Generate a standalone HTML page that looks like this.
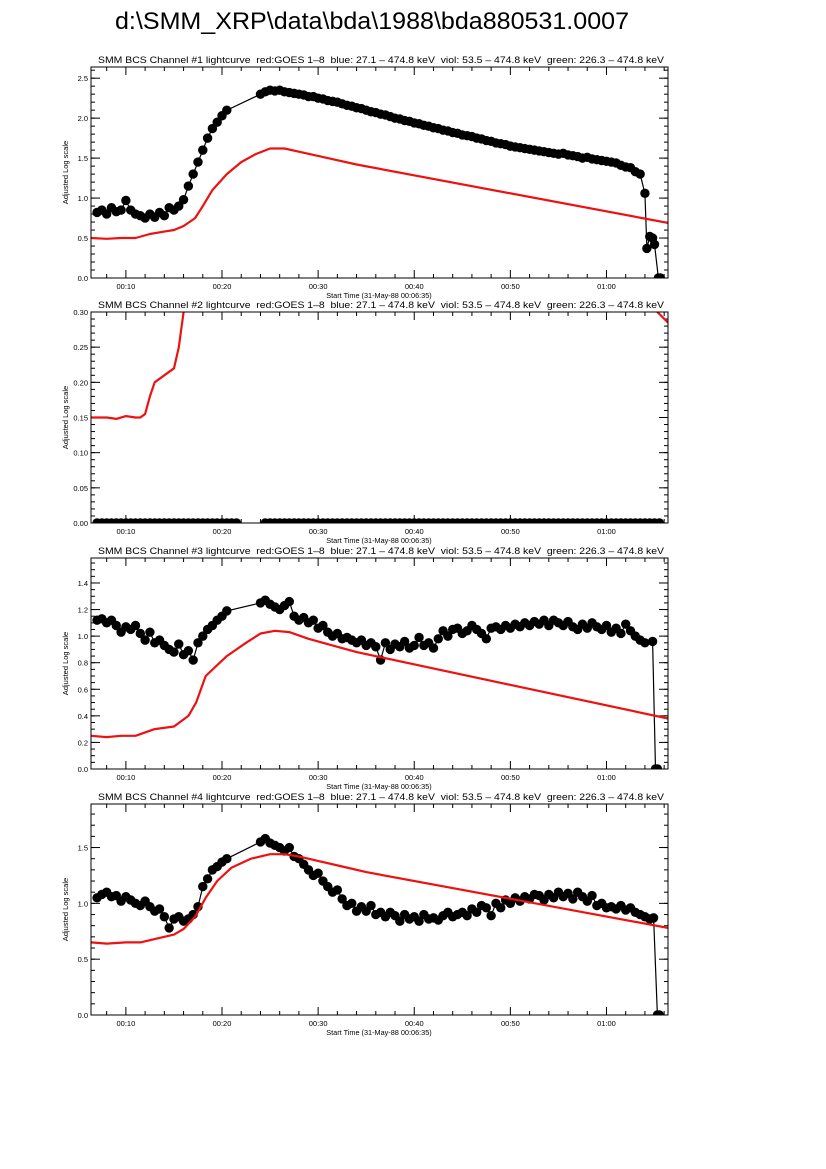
<!DOCTYPE html>
<html><head><meta charset="utf-8"><style>
html,body{margin:0;padding:0;background:#fff;}
svg{display:block;font-family:"Liberation Sans",sans-serif;}
</style></head><body>
<svg id="chart" width="826" height="1169" viewBox="0 0 826 1169" xmlns="http://www.w3.org/2000/svg">
<rect width="826" height="1169" fill="#fff"/>
<text x="372" y="29" font-size="24" text-anchor="middle" textLength="514" lengthAdjust="spacingAndGlyphs" fill="#000">d:\SMM_XRP\data\bda\1988\bda880531.0007</text>
<g id="panels"></g>
</svg>
<script>
// ---- shared axis ----
const xTickMinutes = [10, 20, 30, 40, 50, 60];
const xTickLabels = ["00:10", "00:20", "00:30", "00:40", "00:50", "01:00"];
const xMin = 6.37, xMax = 66.4;

// ---- panel 1 ----
const p1BlackT1 = [7,7.5,8,8.5,9,9.5,10,10.5,11,11.5,12,12.5,13,13.5,14,14.5,15,15.5,16,16.5,17,17.5,18,18.5,19,19.5,20,20.5];
const p1BlackV1 = [0.82,0.85,0.8,0.88,0.83,0.85,0.97,0.85,0.8,0.78,0.75,0.8,0.76,0.82,0.78,0.88,0.85,0.9,0.98,1.15,1.3,1.45,1.6,1.75,1.87,1.95,2.03,2.1];
const p1BlackT2 = [24,24.5,25,25.5,26,26.5,27,27.5,28,28.5,29,29.5,30,30.5,31,31.5,32,32.5,33,33.5,34,34.5,35,35.5,36,36.5,37,37.5,38,38.5,39,39.5,40,40.5,41,41.5,42,42.5,43,43.5,44,44.5,45,45.5,46,46.5,47,47.5,48,48.5,49,49.5,50,50.5,51,51.5,52,52.5,53,53.5,54,54.5,55,55.5,56,56.5,57,57.5,58,58.5,59,59.5,60,60.5,61,61.5,62,62.5,63,63.5,64,64.2,64.5,64.8,65,65.4,65.6];
const p1BlackV2 = [2.30,2.33,2.35,2.34,2.35,2.33,2.32,2.31,2.30,2.29,2.27,2.27,2.25,2.24,2.22,2.21,2.20,2.18,2.16,2.15,2.13,2.12,2.10,2.08,2.07,2.05,2.04,2.02,2.00,1.99,1.97,1.96,1.94,1.93,1.91,1.90,1.88,1.87,1.85,1.84,1.82,1.81,1.79,1.78,1.77,1.75,1.74,1.72,1.71,1.69,1.68,1.67,1.65,1.64,1.63,1.62,1.61,1.60,1.59,1.58,1.57,1.56,1.55,1.56,1.54,1.53,1.52,1.50,1.51,1.49,1.48,1.47,1.46,1.45,1.44,1.41,1.39,1.38,1.33,1.30,1.06,0.37,0.52,0.50,0.42,0.0,0.0];
const p1RedT = [6.4,8,9.5,11,12.5,14,15,16,17.2,18,19,20.5,22,23.5,25,26.5,28,31,34,66.4];
const p1RedV = [0.5,0.49,0.5,0.5,0.55,0.58,0.6,0.65,0.75,0.9,1.1,1.3,1.45,1.55,1.62,1.62,1.58,1.5,1.42,0.69];

// ---- panel 2 ----
const p2BlackT1 = [7,7.5,8,8.5,9,9.5,10,10.5,11,11.5,12,12.5,13,13.5,14,14.5,15,15.5,16,16.5,17,17.5,18,18.5,19,19.5,20,20.5,21,21.5];
const p2BlackV1 = [0,0,0,0,0,0,0,0,0,0,0,0,0,0,0,0,0,0,0,0,0,0,0,0,0,0,0,0,0,0];
const p2BlackT2 = [24.5,25,25.5,26,26.5,27,27.5,28,28.5,29,29.5,30,30.5,31,31.5,32,32.5,33,33.5,34,34.5,35,35.5,36,36.5,37,37.5,38,38.5,39,39.5,40,40.5,41,41.5,42,42.5,43,43.5,44,44.5,45,45.5,46,46.5,47,47.5,48,48.5,49,49.5,50,50.5,51,51.5,52,52.5,53,53.5,54,54.5,55,55.5,56,56.5,57,57.5,58,58.5,59,59.5,60,60.5,61,61.5,62,62.5,63,63.5,64,64.5,65,65.5];
const p2BlackV2 = [0,0,0,0,0,0,0,0,0,0,0,0,0,0,0,0,0,0,0,0,0,0,0,0,0,0,0,0,0,0,0,0,0,0,0,0,0,0,0,0,0,0,0,0,0,0,0,0,0,0,0,0,0,0,0,0,0,0,0,0,0,0,0,0,0,0,0,0,0,0,0,0,0,0,0,0,0,0,0,0,0,0,0];
const p2RedT1 = [6.4,8,9,10,11,11.5,12,12.5,13,14,15,15.5,16,16.3];
const p2RedV1 = [0.15,0.15,0.148,0.152,0.15,0.15,0.155,0.18,0.2,0.21,0.22,0.25,0.30,0.33];
const p2RedT2 = [64.6,65.3,66.4];
const p2RedV2 = [0.33,0.30,0.285];

// ---- panel 3 ----
const p3BlackT1 = [7,7.5,8,8.5,9,9.5,10,10.5,11,11.5,12,12.5,13,13.5,14,14.5,15,15.5,16,16.5,17,17.5,18,18.5,19,19.5,20,20.5];
const p3BlackV1 = [1.12,1.13,1.10,1.12,1.08,1.03,1.07,1.05,1.08,1.02,0.97,1.03,0.95,0.97,0.93,0.90,0.88,0.94,0.86,0.89,0.82,0.95,1.0,1.05,1.08,1.12,1.15,1.19];
const p3BlackT2 = [24,24.5,25,25.5,26,26.5,27,27.5,28,28.5,29,29.5,30,30.5,31,31.5,32,32.5,33,33.5,34,34.5,35,35.5,36,36.5,37,37.5,38,38.5,39,39.5,40,40.5,41,41.5,42,42.5,43,43.5,44,44.5,45,45.5,46,46.5,47,47.5,48,48.5,49,49.5,50,50.5,51,51.5,52,52.5,53,53.5,54,54.5,55,55.5,56,56.5,57,57.5,58,58.5,59,59.5,60,60.5,61,61.5,62,62.5,63,63.5,64,64.8,65.1,65.3];
const p3BlackV2 = [1.25,1.27,1.24,1.22,1.20,1.23,1.26,1.15,1.12,1.14,1.10,1.12,1.06,1.08,1.03,1.00,1.02,0.98,0.99,0.97,0.95,0.97,0.93,0.95,0.92,0.82,0.95,0.90,0.94,0.92,0.96,0.91,0.93,0.99,0.93,0.95,0.91,0.98,1.04,1.00,1.05,1.06,1.02,1.04,1.08,1.05,1.02,0.98,1.06,1.07,1.05,1.08,1.06,1.09,1.07,1.10,1.08,1.11,1.09,1.12,1.08,1.12,1.10,1.08,1.11,1.07,1.05,1.09,1.06,1.10,1.07,1.05,1.08,1.03,1.06,1.02,1.09,1.04,1.00,0.97,0.95,0.96,0.0,0.0];
const p3RedT = [6.4,8,9.5,11,13,15,16.5,17.3,18.3,20.5,22.5,24,25.5,27,29,32,34,66.4];
const p3RedV = [0.25,0.24,0.25,0.25,0.3,0.32,0.4,0.5,0.7,0.85,0.95,1.02,1.04,1.03,0.98,0.92,0.88,0.38];

// ---- panel 4 ----
const p4BlackT1 = [7,7.5,8,8.5,9,9.5,10,10.5,11,11.5,12,12.5,13,13.5,14,14.5,15,15.5,16,16.5,17,17.5,18,18.5,19,19.5,20,20.5];
const p4BlackV1 = [1.05,1.08,1.10,1.06,1.07,1.02,1.06,1.03,1.00,0.98,1.02,0.97,0.93,0.95,0.88,0.78,0.86,0.88,0.84,0.86,0.90,0.97,1.15,1.22,1.30,1.33,1.37,1.40];
const p4BlackT2 = [24,24.5,25,25.5,26,26.5,27,27.5,28,28.5,29,29.5,30,30.5,31,31.5,32,32.5,33,33.5,34,34.5,35,35.5,36,36.5,37,37.5,38,38.5,39,39.5,40,40.5,41,41.5,42,42.5,43,43.5,44,44.5,45,45.5,46,46.5,47,47.5,48,48.5,49,49.5,50,50.5,51,51.5,52,52.5,53,53.5,54,54.5,55,55.5,56,56.5,57,57.5,58,58.5,59,59.5,60,60.5,61,61.5,62,62.5,63,63.5,64,64.5,64.9,65.3,65.5];
const p4BlackV2 = [1.55,1.58,1.54,1.52,1.50,1.47,1.50,1.42,1.40,1.35,1.30,1.25,1.27,1.20,1.15,1.10,1.12,1.04,0.98,1.00,0.93,0.97,0.93,0.98,0.90,0.92,0.88,0.92,0.89,0.84,0.90,0.86,0.88,0.84,0.90,0.86,0.87,0.85,0.89,0.92,0.88,0.90,0.92,0.89,0.95,0.92,0.98,0.96,0.89,1.00,0.96,1.03,1.00,1.05,1.02,1.06,1.04,1.08,1.07,1.03,1.08,1.05,1.10,1.06,1.09,1.04,1.10,1.06,1.02,1.07,0.98,1.00,0.96,0.97,0.95,0.98,0.94,0.96,0.92,0.90,0.88,0.86,0.87,0.0,0.0];
const p4RedT = [6.4,8,10,11.5,13,15,16,17.2,18.3,19.5,21,23,25,26.5,28,30,32.5,35,66.4];
const p4RedV = [0.65,0.64,0.65,0.65,0.68,0.72,0.77,0.88,1.05,1.2,1.32,1.4,1.44,1.44,1.42,1.38,1.33,1.28,0.78];

const panelsData = [
  {n:1, top:67, yMax:2.64, yMajor:[0,0.5,1,1.5,2,2.5], yLab:["0.0","0.5","1.0","1.5","2.0","2.5"], yMinorStep:0.1, connect:true,
   black:[[p1BlackT1,p1BlackV1],[p1BlackT2,p1BlackV2]], red:[[p1RedT,p1RedV]]},
  {n:2, top:312, yMax:0.30, yMajor:[0,0.05,0.1,0.15,0.2,0.25,0.3], yLab:["0.00","0.05","0.10","0.15","0.20","0.25","0.30"], yMinorStep:0.01, connect:false,
   black:[[p2BlackT1,p2BlackV1],[p2BlackT2,p2BlackV2]], red:[[p2RedT1,p2RedV1],[p2RedT2,p2RedV2]]},
  {n:3, top:558, yMax:1.588, yMajor:[0,0.2,0.4,0.6,0.8,1.0,1.2,1.4], yLab:["0.0","0.2","0.4","0.6","0.8","1.0","1.2","1.4"], yMinorStep:0.05, connect:true,
   black:[[p3BlackT1,p3BlackV1],[p3BlackT2,p3BlackV2]], red:[[p3RedT,p3RedV]]},
  {n:4, top:804, yMax:1.89, yMajor:[0,0.5,1.0,1.5], yLab:["0.0","0.5","1.0","1.5"], yMinorStep:0.1, connect:true,
   black:[[p4BlackT1,p4BlackV1],[p4BlackT2,p4BlackV2]], red:[[p4RedT,p4RedV]]}
];

const NS = "http://www.w3.org/2000/svg";
const L = 91, R = 668, H = 211;
const root = document.getElementById('panels');
function mk(tag, attrs, parent){ const e=document.createElementNS(NS,tag); for(const k in attrs) e.setAttribute(k,attrs[k]); parent.appendChild(e); return e; }

panelsData.forEach(p => {
  const top = p.top, bot = top + H;
  const xs = t => L + (t - xMin) / (xMax - xMin) * (R - L);
  const ys = v => bot - v / p.yMax * H;
  const g = mk('g', {}, root);
  
  

  const st = mk('text', {x:98, y:top-4, 'font-size':'9.5', fill:'#000', textLength:566, lengthAdjust:'spacingAndGlyphs'}, g);
  
  
  st.textContent = 'SMM BCS Channel #' + p.n + ' lightcurve  red:GOES 1\u20138  blue: 27.1 \u2013 474.8 keV  viol: 53.5 \u2013 474.8 keV  green: 226.3 \u2013 474.8 keV';
  st.style.whiteSpace = 'pre';

  const cid = 'clip' + p.n;
  const cp = mk('clipPath', {id:cid}, g);
  mk('rect', {x:L, y:top, width:R-L, height:H}, cp);

  const tk = mk('g', {stroke:'#000','stroke-width':1}, g);
  
  
  for (let m = 8; m <= 66; m += 2) {
    const x = xs(m);
    const len = (m % 10 === 0) ? 8 : 4;
    mk('line', {x1:x, y1:bot, x2:x, y2:bot-len}, tk);
    mk('line', {x1:x, y1:top, x2:x, y2:top+len}, tk);
  }
  const nMinor = Math.round(p.yMax / p.yMinorStep);
  for (let i = 0; i <= nMinor; i++) {
    const v = i * p.yMinorStep;
    if (v > p.yMax) break;
    const y = ys(v);
    mk('line', {x1:L, y1:y, x2:L+4, y2:y}, tk);
    mk('line', {x1:R, y1:y, x2:R-4, y2:y}, tk);
  }
  p.yMajor.forEach((v, i) => {
    const y = ys(v);
    mk('line', {x1:L, y1:y, x2:L+9, y2:y}, tk);
    mk('line', {x1:R, y1:y, x2:R-9, y2:y}, tk);
    const lb = mk('text', {x:L-3, y:y+3, 'font-size':'7.5', 'text-anchor':'end', fill:'#000'}, g);
    
    
    lb.textContent = p.yLab[i];
  });
  xTickMinutes.forEach((m, i) => {
    const lb = mk('text', {x:xs(m), y:bot+11, 'font-size':'7.5', 'text-anchor':'middle', fill:'#000'}, g);
    
    
    lb.textContent = xTickLabels[i];
  });
  const xt = mk('text', {x:379, y:bot+20, 'font-size':'7.3', 'text-anchor':'middle', fill:'#000'}, g);
  
  
  xt.textContent = 'Start Time (31-May-88 00:06:35)';
  const yt = mk('text', {x:0, y:0, 'font-size':'7.5', 'text-anchor':'middle', fill:'#000', transform:'translate(68,'+(top+H/2)+') rotate(-90)'}, g);
  
  
  yt.textContent = 'Adjusted Log scale';

  const plot = mk('g', {'clip-path':'url(#'+cid+')'}, g);
  const segs = p.connect ? [[[].concat(...p.black.map(s=>s[0])), [].concat(...p.black.map(s=>s[1]))]] : p.black;
  segs.forEach(([T, V]) => {
    const pl = mk('polyline', {fill:'none', stroke:'#000', 'stroke-width':1.2,
      points: T.map((t,i)=> xs(t).toFixed(1)+','+ys(V[i]).toFixed(1)).join(' ')}, plot);
    
    
    T.forEach((t, i) => {
      const c = mk('circle', {cx:xs(t), cy:ys(V[i]), r:4.7, fill:'#000'}, plot);
      
      
    });
  });
  p.red.forEach(([T, V]) => {
    const pl = mk('polyline', {fill:'none', stroke:'#ee1111', 'stroke-width':2.2, 'stroke-linejoin':'round',
      points: T.map((t,i)=> xs(t).toFixed(1)+','+ys(V[i]).toFixed(1)).join(' ')}, plot);
    
    
  });
  const fr = mk('rect', {x:L, y:top, width:R-L, height:H, fill:'none', stroke:'#000', 'stroke-width':1}, g);
  
  
});
</script>
</body></html>
